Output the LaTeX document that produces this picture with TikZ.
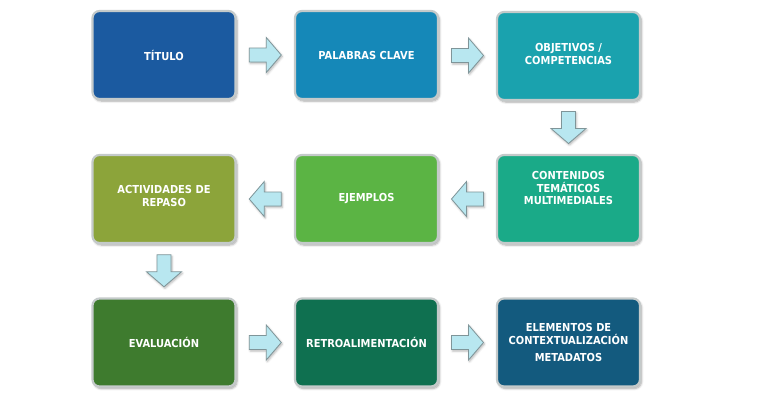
\documentclass[tikz,border=0pt]{standalone}
\usepackage{fontspec}
\setmainfont{DejaVu Sans Condensed}
\usetikzlibrary{calc,shadows.blur}
\definecolor{cA}{HTML}{1B5AA0}
\definecolor{cB}{HTML}{1588B8}
\definecolor{cC}{HTML}{1AA2AE}
\definecolor{cD}{HTML}{1AAA88}
\definecolor{cE}{HTML}{5BB444}
\definecolor{cF}{HTML}{8CA43A}
\definecolor{cG}{HTML}{3E7B2E}
\definecolor{cH}{HTML}{0F7050}
\definecolor{cI}{HTML}{135A7E}
\definecolor{arfill}{HTML}{B8E7F0}
\definecolor{arline}{HTML}{7F9599}
\definecolor{boxline}{HTML}{C4CACA}
\tikzset{
  box/.style={rectangle, rounded corners=7pt, draw=boxline, line width=2.2pt,
    minimum width=143pt, minimum height=88pt, inner sep=0pt,
    text=white, align=center, font=\bfseries\fontsize{11}{12.5}\selectfont,
    blur shadow={shadow xshift=1.5pt, shadow yshift=-2pt, shadow blur steps=6, shadow opacity=35}},
  txt/.style={text=white, align=center, font=\bfseries\fontsize{11}{12.5}\selectfont, inner sep=0pt},
  arsty/.style={fill=arfill, draw=arline, line width=0.8pt, line join=miter,
    blur shadow={shadow xshift=1pt, shadow yshift=-1.5pt, shadow blur steps=4, shadow opacity=30}},
  barrow/.pic={\path[arsty] (-16,-7) -- (1,-7) -- (1,-17.5) -- (16,0) -- (1,17.5) -- (1,7) -- (-16,7) -- cycle;}
}
\begin{document}
\begin{tikzpicture}[x=1pt,y=-1pt]
\useasboundingbox (0,0) rectangle (775,400);
\node[box, fill=cA] (tit) at (164,55) {TÍTULO};
\node[box, fill=cB] (pal) at (366.5,55) {PALABRAS CLAVE};
\node[box, fill=cC] (obj) at (568.5,56) {};
\node[txt] at ([yshift=2pt]obj.center) {OBJETIVOS /\\COMPETENCIAS};
\node[box, fill=cD] (con) at (568.5,199) {};
\node[txt] at ([yshift=11pt]con.center) {CONTENIDOS\\TEMÁTICOS\\MULTIMEDIALES};
\node[box, fill=cE] (eje) at (366.5,199) {EJEMPLOS};
\node[box, fill=cF] (act) at (164,199) {};
\node[txt] at ([yshift=3pt]act.center) {ACTIVIDADES DE\\REPASO};
\node[box, fill=cG] (eva) at (164,342.5) {EVALUACIÓN};
\node[box, fill=cH] (ret) at (366.5,342.5) {RETROALIMENTACIÓN};
\node[box, fill=cI] (ele) at (568.5,342.5) {ELEMENTOS DE\\CONTEXTUALIZACIÓN\\[5pt]METADATOS};
\pic at ($(tit.east)!0.5!(pal.west)$) {barrow};
\pic at ($(pal.east)!0.5!(obj.west)$) {barrow};
\pic[rotate=-90] at ($(obj.south)!0.5!(con.north)$) {barrow};
\pic[rotate=180] at ($(con.west)!0.5!(eje.east)$) {barrow};
\pic[rotate=180] at ($(eje.west)!0.5!(act.east)$) {barrow};
\pic[rotate=-90] at ($(act.south)!0.5!(eva.north)$) {barrow};
\pic at ($(eva.east)!0.5!(ret.west)$) {barrow};
\pic at ($(ret.east)!0.5!(ele.west)$) {barrow};
\end{tikzpicture}
\end{document}
